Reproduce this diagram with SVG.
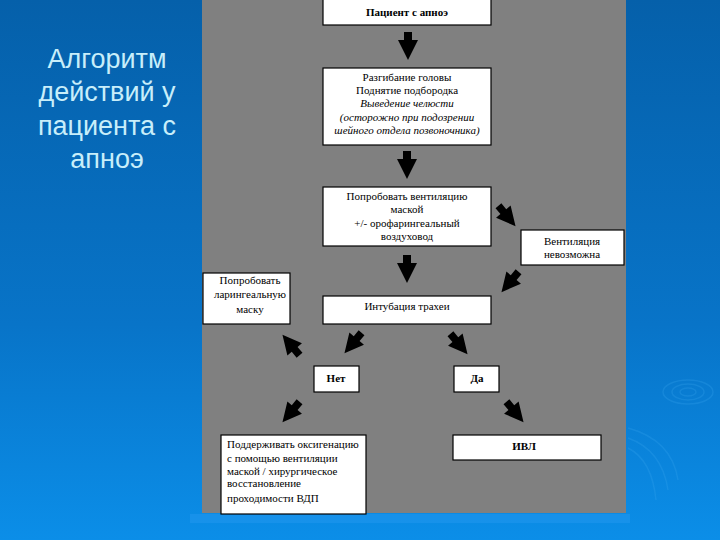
<svg xmlns="http://www.w3.org/2000/svg" width="720" height="540" viewBox="0 0 720 540">
<defs>
<linearGradient id="bg" x1="0" y1="0" x2="0" y2="1">
<stop offset="0" stop-color="#0560aa"/>
<stop offset="0.6" stop-color="#0874c8"/>
<stop offset="1" stop-color="#0b8ee8"/>
</linearGradient>
<path id="arr" d="M-4,-14 L4,-14 L4,-6 L10,-6 L0,14 L-10,-6 L-4,-6 Z" fill="#000"/>
</defs>
<style>
.box{fill:#fff;stroke:#000;stroke-width:1.2}
.t{font-family:"Liberation Serif","DejaVu Serif",serif;font-size:11px;fill:#000;text-anchor:middle}
.b{font-weight:bold}
.i{font-style:italic}
.l{text-anchor:start}
.title{font-family:"Liberation Sans",Arial,sans-serif;font-size:27px;fill:#c8eefa;text-anchor:middle}
.rip{fill:none;stroke:#3aa6f0;stroke-opacity:0.25;stroke-width:1.5}
</style>
<rect x="0" y="0" width="720" height="540" fill="url(#bg)"/>
<g id="ripples">
<ellipse class="rip" cx="688" cy="392" rx="8" ry="4"/>
<ellipse class="rip" cx="688" cy="392" rx="16" ry="8"/>
<ellipse class="rip" cx="688" cy="392" rx="25" ry="12"/>
<path class="rip" d="M628,428 Q672,440 678,480"/>
<path class="rip" d="M628,438 Q662,450 668,490"/>
<path class="rip" d="M628,448 Q652,460 656,500"/>
</g>
<rect x="190" y="514" width="440" height="9" fill="#2a9cf2" fill-opacity="0.4"/>
<rect x="202" y="0" width="424" height="513" fill="#808080"/>
<g id="title">
<text class="title" x="107" y="68">Алгоритм</text>
<text class="title" x="107" y="101">действий у</text>
<text class="title" x="107" y="135">пациента с</text>
<text class="title" x="107" y="168">апноэ</text>
</g>
<g id="n1"><rect class="box" x="323" y="-1" width="168" height="26"/><text class="t b" x="407" y="16">Пациент с апноэ</text></g>
<g id="n2"><rect class="box" x="323" y="68" width="168" height="77"/>
<text class="t" x="407" y="81">Разгибание головы</text>
<text class="t" x="407" y="94">Поднятие подбородка</text>
<text class="t i" x="407" y="107">Выведение челюсти</text>
<text class="t i" x="407" y="121">(осторожно при подозрении</text>
<text class="t i" x="407" y="134">шейного отдела позвоночника)</text>
</g>
<g id="n3"><rect class="box" x="323" y="187" width="168" height="59"/>
<text class="t" x="407" y="200">Попробовать вентиляцию</text>
<text class="t" x="407" y="213">маской</text>
<text class="t" x="407" y="227">+/- орофарингеальный</text>
<text class="t" x="407" y="240">воздуховод</text>
</g>
<g id="n4"><rect class="box" x="521" y="230" width="103" height="35"/>
<text class="t" x="572" y="245">Вентиляция</text>
<text class="t" x="572" y="258">невозможна</text>
</g>
<g id="n5"><rect class="box" x="203" y="273" width="87" height="51"/>
<text class="t" x="250" y="284">Попробовать</text>
<text class="t" x="250" y="298">ларингеальную</text>
<text class="t" x="250" y="313">маску</text>
</g>
<g id="n6"><rect class="box" x="323" y="296" width="168" height="28"/><text class="t" x="407" y="310">Интубация трахеи</text></g>
<g id="n7"><rect class="box" x="314" y="366" width="45" height="26"/><text class="t b" x="336" y="382">Нет</text></g>
<g id="n8"><rect class="box" x="454" y="366" width="45" height="26"/><text class="t b" x="477" y="382">Да</text></g>
<g id="n9"><rect class="box" x="221" y="435" width="145" height="79"/>
<text class="t l" x="227" y="448">Поддерживать оксигенацию</text>
<text class="t l" x="227" y="462">с помощью вентиляции</text>
<text class="t l" x="227" y="475">маской / хирургическое</text>
<text class="t l" x="227" y="487">восстановление</text>
<text class="t l" x="227" y="502">проходимости ВДП</text>
</g>
<g id="n10"><rect class="box" x="453" y="435" width="148" height="25"/><text class="t b" x="524" y="450">ИВЛ</text></g>
<g id="connectors">
<use href="#arr" transform="translate(408,46)"/>
<use href="#arr" transform="translate(407,165)"/>
<use href="#arr" transform="translate(407,269)"/>
<use href="#arr" transform="translate(507,216) rotate(-40) scale(0.95)"/>
<use href="#arr" transform="translate(510,282) rotate(40) scale(0.95)"/>
<use href="#arr" transform="translate(291,345) rotate(140) scale(0.95)"/>
<use href="#arr" transform="translate(353,343) rotate(40) scale(0.95)"/>
<use href="#arr" transform="translate(459,344) rotate(-40) scale(0.95)"/>
<use href="#arr" transform="translate(291,412) rotate(40) scale(0.95)"/>
<use href="#arr" transform="translate(515,412) rotate(-40) scale(0.95)"/>
</g>
</svg>
